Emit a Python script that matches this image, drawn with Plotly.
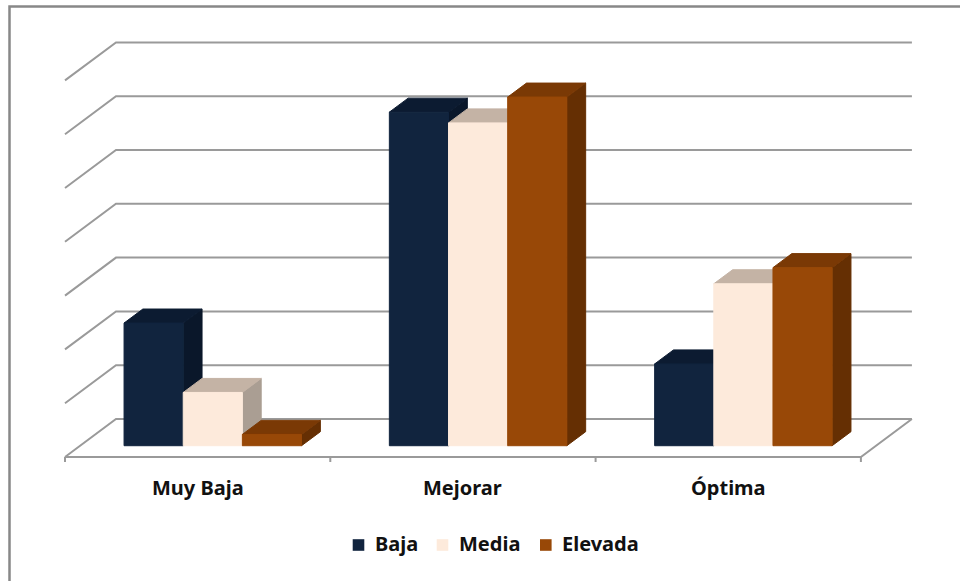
import plotly.graph_objects as go

# Share of each level (%) within every rating category
categories = ["Muy Baja", "Mejorar", "Óptima"]
series_names = ["Baja", "Media", "Elevada"]
baja = [22.8, 62.0, 15.2]
media = [9.9, 60.0, 30.1]
elevada = [2.1, 64.8, 33.1]
series_values = [baja, media, elevada]
grid_values = [0, 10, 20, 30, 40, 50, 60, 70]

# Face colours: front, top, side
face_colors = {
    "Baja": ("#11243e", "#0c1b31", "#0a172a"),
    "Media": ("#fdeadb", "#c4b3a5", "#aa9e93"),
    "Elevada": ("#984807", "#7a3905", "#652f03"),
}

W, H = 960, 581
# pixel scale of the oblique projection
PX_PER_CAT = 265.3
PX_PER_PCT = 5.38
ORIGIN_X, ORIGIN_Y = 65, 457
DEPTH_DX = 51 / PX_PER_CAT      # floor depth, in category units
DEPTH_DY = 38 / PX_PER_PCT      # floor depth, in value units

GROUP_W = 0.669                 # fraction of a category taken by the 3 bars
BAR_W = GROUP_W / 3
BAR_FRONT = 0.297               # bar front face, fraction of floor depth
BAR_DEPTH = 0.369               # bar depth, fraction of floor depth

GRID_COLOR = "#9a9a9a"
FONT = dict(family="Noto Sans", size=20, color="#111111", weight="bold")

fig = go.Figure()


def poly(xs, ys, color, line_color=None, width=1.0):
    fig.add_trace(go.Scatter(
        x=list(xs) + [xs[0]], y=list(ys) + [ys[0]],
        mode="lines", fill="toself", fillcolor=color,
        line=dict(color=line_color or color, width=width),
        hoverinfo="skip", showlegend=False))


def seg(x, y, color=GRID_COLOR, width=2):
    fig.add_trace(go.Scatter(x=x, y=y, mode="lines",
                             line=dict(color=color, width=width),
                             hoverinfo="skip", showlegend=False))


n_cat = len(categories)

# back wall and left wall gridlines
for g in grid_values:
    seg([0, DEPTH_DX, n_cat + DEPTH_DX], [g, g + DEPTH_DY, g + DEPTH_DY])

# floor outline
seg([0, n_cat, n_cat + DEPTH_DX], [0, 0, DEPTH_DY])
# category tick marks
tick_len = 5 / PX_PER_PCT
for i in range(n_cat + 1):
    seg([i, i], [0, -tick_len])

# 3D bars, drawn left to right so nearer faces overlap correctly
fx = BAR_FRONT * DEPTH_DX
fy = BAR_FRONT * DEPTH_DY
ddx = BAR_DEPTH * DEPTH_DX
ddy = BAR_DEPTH * DEPTH_DY
for i in range(n_cat):
    for j, name in enumerate(series_names):
        v = series_values[j][i]
        front, top, side = face_colors[name]
        x0 = i + 0.5 - GROUP_W / 2 + j * BAR_W + fx
        x1 = x0 + BAR_W
        yb = fy
        yt = fy + v
        # side face
        poly([x1, x1 + ddx, x1 + ddx, x1],
             [yb, yb + ddy, yt + ddy, yt], side)
        # top face
        poly([x0, x1, x1 + ddx, x0 + ddx],
             [yt, yt, yt + ddy, yt + ddy], top)
        # front face
        poly([x0, x1, x1, x0], [yb, yb, yt, yt], front)

# category labels
label_y = (ORIGIN_Y - 487) / PX_PER_PCT
for i, c in enumerate(categories):
    fig.add_annotation(x=i + 0.5, y=label_y, text=c, showarrow=False,
                       xanchor="center", yanchor="middle", font=FONT)

# legend
legend_sq_x = [352.7, 436.7, 540.0]
legend_txt_x = [372.7, 456.7, 560.0]
sq = 11.6
for k, name in enumerate(series_names):
    fig.add_shape(type="rect", xref="paper", yref="paper",
                  x0=legend_sq_x[k] / W, x1=(legend_sq_x[k] + sq) / W,
                  y0=1 - 550.8 / H, y1=1 - (550.8 - sq) / H,
                  fillcolor=face_colors[name][0], line=dict(width=0))
    fig.add_annotation(xref="paper", yref="paper",
                       x=legend_txt_x[k] / W, y=1 - 543.7 / H,
                       text=name, showarrow=False, xanchor="left",
                       yanchor="middle", font=FONT)

# chart border
fig.add_shape(type="rect", xref="paper", yref="paper",
              x0=9.5 / W, x1=1.05, y0=-0.05, y1=1 - 6.5 / H,
              line=dict(color="#888888", width=2.5), fillcolor="rgba(0,0,0,0)")

fig.update_layout(
    width=W, height=H, margin=dict(l=0, r=0, t=0, b=0),
    paper_bgcolor="white", plot_bgcolor="white",
    xaxis=dict(range=[-ORIGIN_X / PX_PER_CAT, (W - ORIGIN_X) / PX_PER_CAT],
               visible=False, fixedrange=True),
    yaxis=dict(range=[(ORIGIN_Y - H) / PX_PER_PCT, ORIGIN_Y / PX_PER_PCT],
               visible=False, fixedrange=True),
    showlegend=False,
)

fig.write_html("out.html")
